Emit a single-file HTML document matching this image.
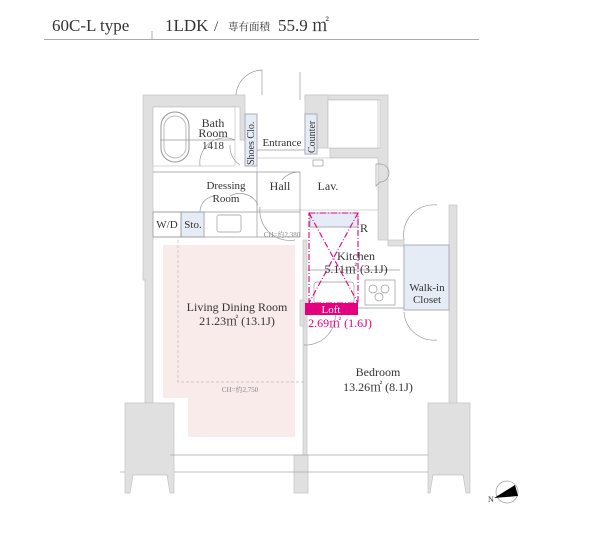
<!DOCTYPE html>
<html><head><meta charset="utf-8"><style>
body{margin:0;background:#fff;width:600px;height:540px;overflow:hidden}
svg{display:block}
text{font-family:"Liberation Serif","Noto Serif CJK SC",serif;fill:#333}
</style></head><body>
<svg width="600" height="540" viewBox="0 0 600 540" xmlns="http://www.w3.org/2000/svg">
<!-- header -->
<text x="52" y="31" font-size="17" fill="#444">60C-L type</text>
<line x1="152" y1="31" x2="152" y2="39" stroke="#aaa"/>
<text x="165" y="31" font-size="17">1LDK</text>
<text x="214" y="31" font-size="15">/</text>
<text x="228" y="30" font-size="10.5" font-family="Noto Serif CJK SC, serif">専有面積</text>
<text x="278" y="31" font-size="17">55.9 ㎡</text>
<line x1="44" y1="39.5" x2="479" y2="39.5" stroke="#aaa"/>

<g stroke="#c4c4c4" stroke-width="0.7" fill="#e0e0e0">
<path d="M143 95 H245 V140 H240 V107 H153 V403 H145 V280 H143 Z"/>
<path d="M305 95 H388 V240 H378 V158 H330 V148 H380 V100 H305 Z"/>
<rect x="305" y="95" width="23" height="53"/>
<rect x="245" y="114" width="12" height="36"/>
<rect x="449" y="205" width="8" height="265"/>
<rect x="388" y="240" width="16" height="6"/>
<rect x="303" y="240" width="4" height="215"/>
<rect x="300" y="300" width="4" height="26"/>
<path d="M125 403 H174 V493 H170 L167 475 H133 L130 493 H125 Z"/>
<path d="M294 455 H308 V493 H294 Z"/>
<path d="M428 403 H470 V493 H466 L463 475 H433 L430 493 H428 Z"/>
</g>
<g fill="#fff" stroke="#bbb" stroke-width="0.6">
<rect x="153" y="107" width="82" height="59"/>
<rect x="328" y="100" width="50" height="48"/>
<rect x="257" y="158" width="121" height="52"/>
</g>
<rect x="161" y="112" width="28" height="50" rx="14" fill="none" stroke="#999"/>
<rect x="164" y="116" width="22" height="42" rx="11" fill="none" stroke="#bbb"/>
<g fill="#e6ecf5" stroke="#aab">
<rect x="245" y="114" width="12" height="52"/>
<rect x="305" y="114" width="12" height="40"/>
<rect x="181" y="212" width="23" height="25"/>
<rect x="310" y="213" width="48" height="14"/>
<rect x="404" y="245" width="45" height="65"/>
</g>
<g fill="none" stroke="#999" stroke-width="0.7">
<rect x="217" y="215" width="24" height="17" rx="2"/>
<rect x="365" y="280" width="30" height="25"/>
<circle cx="373" cy="289" r="4"/><circle cx="385" cy="289" r="4"/><circle cx="379" cy="297" r="4"/>
<rect x="314" y="282" width="40" height="22" rx="3"/>
<path d="M380 182 a9 9 0 0 0 0 -18 H376 V186 Z"/>
<rect x="313" y="160" width="10" height="6"/>
<rect x="153" y="212" width="28" height="25"/>
<line x1="153" y1="172" x2="300" y2="172"/>
<line x1="153" y1="237" x2="300" y2="237"/>
<line x1="300" y1="172" x2="300" y2="237"/>
<line x1="153" y1="212" x2="300" y2="212"/>
<line x1="257" y1="150" x2="305" y2="150"/>
<line x1="257" y1="172" x2="257" y2="237"/>
<line x1="308" y1="270" x2="400" y2="270"/>
<line x1="308" y1="308" x2="404" y2="308"/>
<path d="M262 95 V70 A27 27 0 0 0 236 95"/>
<path d="M300 72 V100"/>
<path d="M240 165 A22 22 0 0 1 230 145"/>
<path d="M230 196 A20 20 0 0 1 258 205"/>
<path d="M300 172 A22 22 0 0 0 282 180"/>
<path d="M260 207 A30 30 0 0 0 295 240"/>
<path d="M304 345 A30 30 0 0 0 335 310"/>
<path d="M404 312 A30 30 0 0 0 437 340"/>
<path d="M437 205 A30 30 0 0 0 404 240"/>
<path d="M200 212 A16 16 0 0 1 215 196"/>
<path d="M160 140 L235 140 M200 166 A25 25 0 0 1 235 140"/>
</g>
<g stroke="#aaa" stroke-width="0.7">
<line x1="170" y1="455" x2="428" y2="455"/>
<line x1="174" y1="472" x2="428" y2="472"/>
<line x1="120" y1="472" x2="125" y2="472"/>
</g>
<path d="M163 245 H295 V437 H188 V398 H163 Z" fill="#f8ebea"/>
<path d="M178 240 V382 H304" fill="none" stroke="#bbb" stroke-dasharray="3,2" stroke-width="0.7"/>
<g stroke="#e4007f" stroke-width="1.1" fill="none" stroke-dasharray="6,2,1,2">
<rect x="309" y="213" width="49" height="90"/>
<line x1="309" y1="213" x2="358" y2="303"/>
<line x1="358" y1="213" x2="309" y2="303"/>
</g>
<rect x="305" y="303" width="53" height="12" fill="#e4007f"/>
<text x="331" y="313" font-size="11" style="fill:#fff" text-anchor="middle">Loft</text>
<text x="340" y="327" font-size="12" style="fill:#e4007f" text-anchor="middle">2.69㎡ (1.6J)</text>
<g font-size="12" text-anchor="middle">
<text x="213" y="127">Bath</text>
<text x="213" y="137">Room</text>
<text x="213" y="149" font-size="11">1418</text>
<text x="282" y="146" font-size="11">Entrance</text>
<text x="226" y="189" font-size="11">Dressing</text>
<text x="226" y="202" font-size="11">Room</text>
<text x="280" y="190">Hall</text>
<text x="328" y="190">Lav.</text>
<text x="167" y="228" font-size="11">W/D</text>
<text x="193" y="228" font-size="11">Sto.</text>
<text x="364" y="232">R</text>
<text x="356" y="260">Kitchen</text>
<text x="356" y="273">5.11㎡ (3.1J)</text>
<text x="427" y="291" font-size="11">Walk-in</text>
<text x="427" y="303" font-size="11">Closet</text>
<text x="237" y="311">Living Dining Room</text>
<text x="237" y="325">21.23㎡ (13.1J)</text>
<text x="378" y="376">Bedroom</text>
<text x="378" y="391">13.26㎡ (8.1J)</text>
<text x="240" y="392" font-size="7" style="fill:#888">CH=約2,750</text>
<text x="282" y="237" font-size="7" style="fill:#888">CH=約2,380</text>
</g>
<text transform="translate(254,165) rotate(-90)" font-size="10">Shoes Clo.</text>
<text transform="translate(315,153) rotate(-90)" font-size="10">Counter</text>
<circle cx="507" cy="492" r="11" fill="#fff" stroke="#999" stroke-width="0.7"/>
<path d="M494 498 L515 485 L518 496 Z" fill="#000"/>
<text x="488" y="502" font-size="8">N</text>
</svg>
</body></html>
